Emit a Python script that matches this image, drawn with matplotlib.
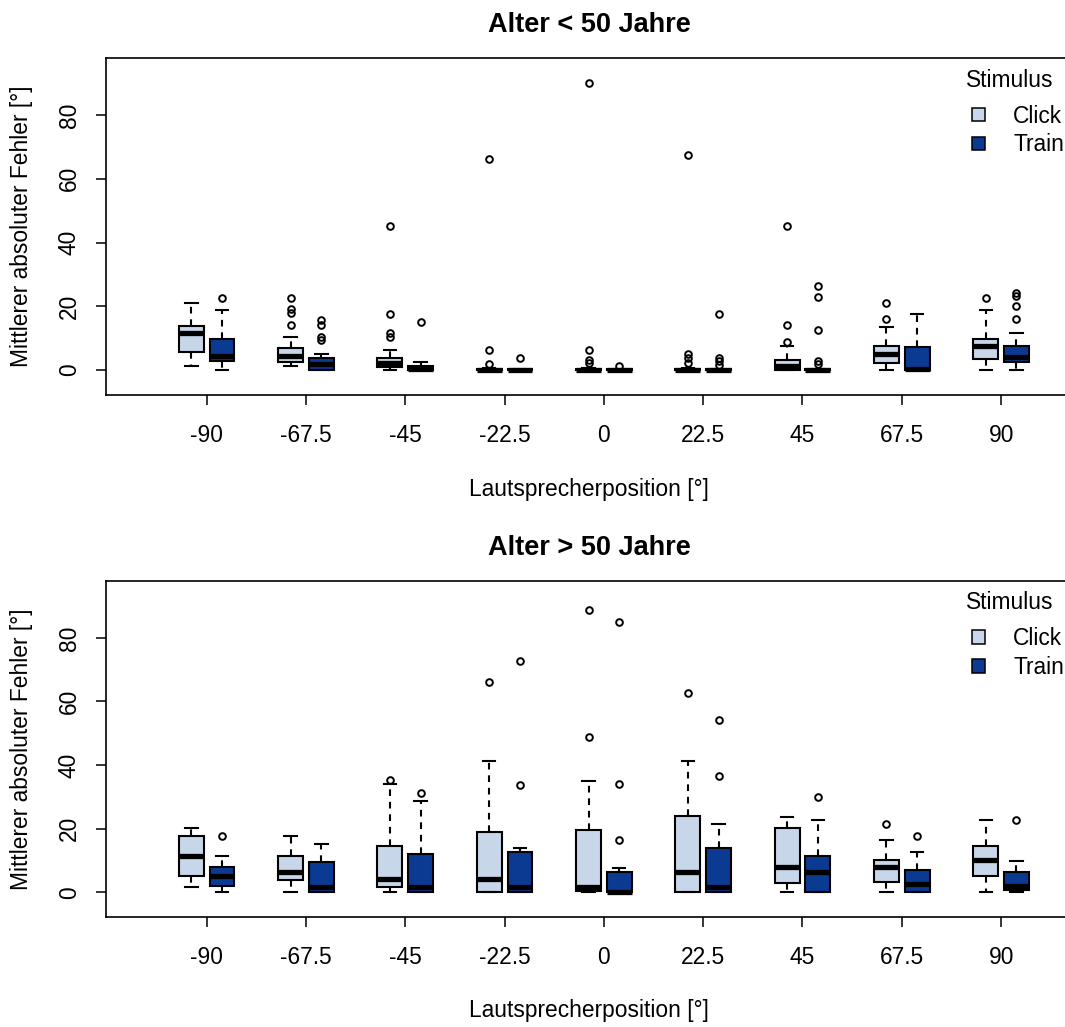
import matplotlib
matplotlib.use("Agg")
import matplotlib.pyplot as plt
from matplotlib.patches import Patch

plt.rcParams['font.family'] = ['Liberation Sans', 'DejaVu Sans']

# Lautsprecherpositionen
positions = ["-90", "-67.5", "-45", "-22.5", "0", "22.5", "45", "67.5", "90"]

# Alter < 50 Jahre, Click
young_click_wlo = [1.3, 1.3, 0, 0, 0, 0, 0, 0, 0]
young_click_q1 = [5.7, 2.6, 1.0, 0, 0, 0, 0, 2.3, 3.5]
young_click_med = [11.5, 4.4, 2.3, 0, 0, 0, 1.25, 5.0, 7.6]
young_click_q3 = [13.8, 6.8, 3.9, 0.4, 0.4, 0.4, 3.3, 7.5, 9.9]
young_click_whi = [21.2, 10.3, 6.3, 0.6, 0.6, 0.6, 7.6, 13.6, 18.8]
young_click_fliers = [[], [22.7, 19.3, 18.0, 14.1], [45.1, 17.6, 11.7, 10.3],
                      [66.2, 6.3, 1.9], [90.0, 6.3, 3.1, 2.1], [67.4, 5.2, 3.7, 2.1],
                      [45.1, 14.1, 8.9], [21.2, 16.0], [22.7]]

# Alter < 50 Jahre, Train
young_train_wlo = [0, 0, 0, 0, 0, 0, 0, 0, 0]
young_train_q1 = [2.8, 0, 0, 0, 0, 0, 0, 0, 2.4]
young_train_med = [4.4, 1.9, 0.3, 0, 0, 0, 0, 0.5, 4.2]
young_train_q3 = [9.7, 3.7, 1.25, 0.3, 0.3, 0.3, 0.3, 7.1, 7.5]
young_train_whi = [18.8, 5.0, 2.6, 0.3, 0.3, 0.3, 0.3, 17.5, 11.8]
young_train_fliers = [[22.7], [15.7, 14.3, 10.3, 9.4], [15.1], [3.7], [1.35],
                      [17.6, 3.9, 2.8, 1.6], [26.3, 22.8, 12.5, 2.8, 1.8], [],
                      [24.3, 23.2, 20.1, 15.9]]

# Alter > 50 Jahre, Click
old_click_wlo = [1.6, 0, 0, 0, 0, 0, 0, 0, 0]
old_click_q1 = [5.2, 3.9, 1.6, 0, 0.5, 0, 2.8, 3.3, 5.2]
old_click_med = [11.4, 6.4, 4.2, 4.2, 1.75, 6.4, 7.8, 7.8, 10.1]
old_click_q3 = [17.7, 11.4, 14.6, 18.9, 19.6, 23.9, 20.1, 10.1, 14.6]
old_click_whi = [20.1, 17.7, 34.1, 41.3, 34.9, 41.3, 23.7, 16.3, 22.6]
old_click_fliers = [[], [], [35.2], [66.0], [88.8, 48.9], [62.6], [], [21.6], []]

# Alter > 50 Jahre, Train
old_train_wlo = [0, 0, 0, 0, 0, 0, 0, 0, 0]
old_train_q1 = [2.1, 0, 0, 0, 0, 0, 0, 0, 0.7]
old_train_med = [5.2, 1.75, 1.75, 1.75, 0, 1.75, 6.4, 2.6, 2.1]
old_train_q3 = [7.8, 9.6, 12.0, 12.7, 6.4, 13.8, 11.4, 7.1, 6.4]
old_train_whi = [11.4, 15.1, 28.8, 13.8, 7.6, 21.3, 22.6, 12.5, 9.7]
old_train_fliers = [[17.7], [], [31.2], [72.6, 33.8], [85.1, 34.1, 16.4],
                    [54.2, 36.4], [30.0], [17.7], [22.6]]

CLICK_COL = "#C8D6E9"
TRAIN_COL = "#0B3A93"
FS = 16.4
LW = 1.5


def make_stats(wlo, q1, med, q3, whi, fliers):
    return [dict(whislo=a, q1=b, med=c, q3=d, whishi=e, fliers=f)
            for a, b, c, d, e, f in zip(wlo, q1, med, q3, whi, fliers)]


def draw_panel(ax, title, click, train):
    n = len(positions)
    for stats, off, col in [(click, -0.155, CLICK_COL), (train, 0.155, TRAIN_COL)]:
        ax.bxp(stats, positions=[i + off for i in range(n)], widths=0.25,
               capwidths=0.125, patch_artist=True, manage_ticks=False,
               boxprops=dict(facecolor=col, edgecolor="black", linewidth=LW),
               whiskerprops=dict(linestyle=(0, (3.2, 2.8)), linewidth=LW),
               capprops=dict(linewidth=LW),
               medianprops=dict(color="black", linewidth=3.8, solid_capstyle="butt"),
               flierprops=dict(marker="o", markersize=4.8, markerfacecolor="none",
                               markeredgecolor="black", markeredgewidth=1.4))
    ax.set_xlim(-1.014, 8.714)
    ax.set_ylim(-7.8, 97.9)
    ax.set_xticks(range(n))
    ax.set_xticklabels(positions)
    ax.set_yticks([0, 20, 40, 60, 80])
    ax.set_yticklabels(["0", "20", "40", "60", "80"], rotation=90, va="center")
    ax.tick_params(axis="both", direction="out", length=7.2, width=1.1, labelsize=FS)
    ax.tick_params(axis="x", pad=14)
    ax.tick_params(axis="y", pad=11)
    for s in ax.spines.values():
        s.set_linewidth(1.2)
    ax.set_title(title, fontsize=19.5, fontweight="bold", pad=19)
    ax.set_xlabel("Lautsprecherposition [°]", fontsize=FS)
    ax.xaxis.set_label_coords(0.5, -0.245)
    handles = [Patch(facecolor=CLICK_COL, edgecolor="black", linewidth=1.1, label="Click"),
               Patch(facecolor=TRAIN_COL, edgecolor="black", linewidth=1.1, label="Train")]
    ax.legend(handles=handles, loc="center left",
              bbox_to_anchor=(0.8965, 0.7849), frameon=False, fontsize=FS,
              handlelength=0.55, handleheight=0.55,
              handletextpad=1.25, labelspacing=0.26, borderpad=0, borderaxespad=0)
    ax.text(0.9358, 0.9347, "Stimulus", transform=ax.transAxes, ha="center",
            va="center", fontsize=FS)


W, H = 1065, 1027
fig = plt.figure(figsize=(W / 100, H / 100), dpi=100)
ax1 = fig.add_axes([106 / W, 1 - 395 / H, 966 / W, 337 / H])
ax2 = fig.add_axes([106 / W, 1 - 917 / H, 966 / W, 336 / H])

draw_panel(ax1, "Alter < 50 Jahre",
           make_stats(young_click_wlo, young_click_q1, young_click_med,
                      young_click_q3, young_click_whi, young_click_fliers),
           make_stats(young_train_wlo, young_train_q1, young_train_med,
                      young_train_q3, young_train_whi, young_train_fliers))
draw_panel(ax2, "Alter > 50 Jahre",
           make_stats(old_click_wlo, old_click_q1, old_click_med,
                      old_click_q3, old_click_whi, old_click_fliers),
           make_stats(old_train_wlo, old_train_q1, old_train_med,
                      old_train_q3, old_train_whi, old_train_fliers))

for ax in (ax1, ax2):
    fig.text(22 / W, (ax.get_position().y0 + ax.get_position().y1) / 2,
             "Mittlerer absoluter Fehler [°]", rotation=90, ha="center",
             va="center", fontsize=FS)

fig.savefig("out.png", dpi=100)
